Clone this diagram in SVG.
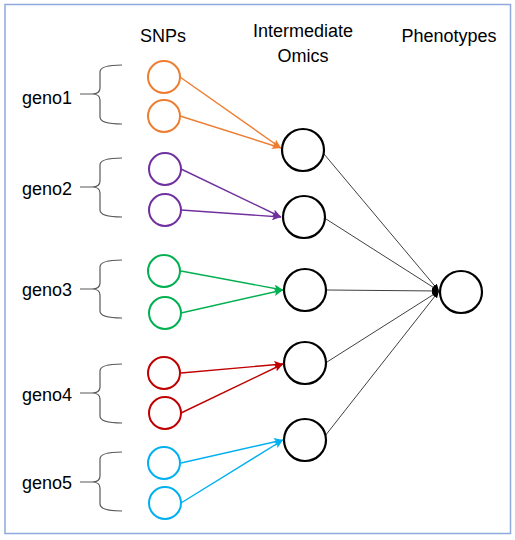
<svg xmlns="http://www.w3.org/2000/svg" width="515" height="540" viewBox="0 0 515 540">
<style>
text{font-family:"Liberation Sans",Arial,sans-serif;font-size:18px;fill:#000}
.snp{fill:#fff;stroke-width:2}
.om{fill:#fff;stroke:#000;stroke-width:2.2}
.br{fill:none;stroke:#595959;stroke-width:1.2}
.c{fill:none;stroke-width:1.4}
.k{fill:none;stroke:#404040;stroke-width:1}
</style>
<defs>
<marker id="aO" markerUnits="userSpaceOnUse" markerWidth="10" markerHeight="8" refX="9" refY="4" orient="auto"><path d="M0,0 L9,4 L0,8 L2,4 Z" fill="#ED7D31"/></marker>
<marker id="aP" markerUnits="userSpaceOnUse" markerWidth="10" markerHeight="8" refX="9" refY="4" orient="auto"><path d="M0,0 L9,4 L0,8 L2,4 Z" fill="#7030A0"/></marker>
<marker id="aG" markerUnits="userSpaceOnUse" markerWidth="10" markerHeight="8" refX="9" refY="4" orient="auto"><path d="M0,0 L9,4 L0,8 L2,4 Z" fill="#00B050"/></marker>
<marker id="aR" markerUnits="userSpaceOnUse" markerWidth="10" markerHeight="8" refX="9" refY="4" orient="auto"><path d="M0,0 L9,4 L0,8 L2,4 Z" fill="#C00000"/></marker>
<marker id="aB" markerUnits="userSpaceOnUse" markerWidth="10" markerHeight="8" refX="9" refY="4" orient="auto"><path d="M0,0 L9,4 L0,8 L2,4 Z" fill="#00B0F0"/></marker>
<marker id="aK" markerUnits="userSpaceOnUse" markerWidth="8" markerHeight="8" refX="7" refY="4" orient="auto"><path d="M0,1 L7,4 L0,7 Z" fill="#000"/></marker>
</defs>
<rect x="5" y="4.5" width="505.5" height="529" fill="#fff" stroke="#8FAADC" stroke-width="1.5"/>

<g id="headers">
<text x="163" y="42" text-anchor="middle">SNPs</text>
<text x="303" y="37" text-anchor="middle">Intermediate</text>
<text x="303" y="62" text-anchor="middle">Omics</text>
<text x="449" y="42" text-anchor="middle">Phenotypes</text>
</g>

<g id="geno1">
<text x="22" y="104">geno1</text>
<path class="br" d="M80,94 L92,94 M122,65 Q100,65 100,72 L100,88 Q100,94 92,94 Q100,94 100,100 L100,117 Q100,124 122,124"/>
</g>
<g id="geno2">
<text x="22" y="195">geno2</text>
<path class="br" d="M80,187 L92,187 M122,158 Q100,158 100,165 L100,181 Q100,187 92,187 Q100,187 100,193 L100,210 Q100,217 122,217"/>
</g>
<g id="geno3">
<text x="22" y="296">geno3</text>
<path class="br" d="M80,289 L92,289 M122,260 Q100,260 100,267 L100,283 Q100,289 92,289 Q100,289 100,295 L100,311 Q100,318 122,318"/>
</g>
<g id="geno4">
<text x="22" y="401">geno4</text>
<path class="br" d="M80,393 L92,393 M122,364 Q100,364 100,371 L100,387 Q100,393 92,393 Q100,393 100,399 L100,416 Q100,423 122,423"/>
</g>
<g id="geno5">
<text x="22" y="489">geno5</text>
<path class="br" d="M80,482 L92,482 M122,452 Q100,452 100,459 L100,476 Q100,482 92,482 Q100,482 100,488 L100,504 Q100,511 122,511"/>
</g>

<g id="connectors">
<line class="c" stroke="#ED7D31" x1="180" y1="77" x2="281" y2="148" marker-end="url(#aO)"/>
<line class="c" stroke="#ED7D31" x1="180" y1="116" x2="281" y2="148" marker-end="url(#aO)"/>
<line class="c" stroke="#7030A0" x1="181" y1="169" x2="281" y2="217" marker-end="url(#aP)"/>
<line class="c" stroke="#7030A0" x1="181" y1="210" x2="281" y2="217" marker-end="url(#aP)"/>
<line class="c" stroke="#00B050" x1="181" y1="271" x2="283" y2="290" marker-end="url(#aG)"/>
<line class="c" stroke="#00B050" x1="181" y1="313" x2="283" y2="290" marker-end="url(#aG)"/>
<line class="c" stroke="#C00000" x1="181" y1="373" x2="283" y2="364" marker-end="url(#aR)"/>
<line class="c" stroke="#C00000" x1="181" y1="413" x2="283" y2="364" marker-end="url(#aR)"/>
<line class="c" stroke="#00B0F0" x1="181" y1="463" x2="283" y2="440" marker-end="url(#aB)"/>
<line class="c" stroke="#00B0F0" x1="181" y1="503" x2="283" y2="440" marker-end="url(#aB)"/>
<line class="k" x1="324" y1="154" x2="439" y2="291" marker-end="url(#aK)"/>
<line class="k" x1="326" y1="219" x2="439" y2="291" marker-end="url(#aK)"/>
<line class="k" x1="327" y1="290" x2="439" y2="291" marker-end="url(#aK)"/>
<line class="k" x1="327" y1="362" x2="439" y2="291" marker-end="url(#aK)"/>
<line class="k" x1="325" y1="436" x2="439" y2="291" marker-end="url(#aK)"/>
</g>

<g id="snps">
<circle id="snp1a" class="snp" stroke="#ED7D31" cx="164" cy="77" r="16"/>
<circle id="snp1b" class="snp" stroke="#ED7D31" cx="164" cy="116" r="16"/>
<circle id="snp2a" class="snp" stroke="#7030A0" cx="165" cy="169" r="16"/>
<circle id="snp2b" class="snp" stroke="#7030A0" cx="165" cy="210" r="16"/>
<circle id="snp3a" class="snp" stroke="#00B050" cx="164" cy="271" r="16"/>
<circle id="snp3b" class="snp" stroke="#00B050" cx="165" cy="313" r="16"/>
<circle id="snp4a" class="snp" stroke="#C00000" cx="164" cy="373" r="16"/>
<circle id="snp4b" class="snp" stroke="#C00000" cx="165" cy="413" r="16"/>
<circle id="snp5a" class="snp" stroke="#00B0F0" cx="164" cy="463" r="16"/>
<circle id="snp5b" class="snp" stroke="#00B0F0" cx="165" cy="503" r="16"/>
</g>

<g id="omics">
<circle id="om1" class="om" cx="303" cy="150" r="21"/>
<circle id="om2" class="om" cx="304" cy="217" r="21"/>
<circle id="om3" class="om" cx="305" cy="290" r="21"/>
<circle id="om4" class="om" cx="305" cy="363" r="21"/>
<circle id="om5" class="om" cx="305" cy="440" r="21"/>
</g>

<g id="phenotype">
<circle id="ph" class="om" cx="461" cy="292" r="21"/>
</g>
</svg>
